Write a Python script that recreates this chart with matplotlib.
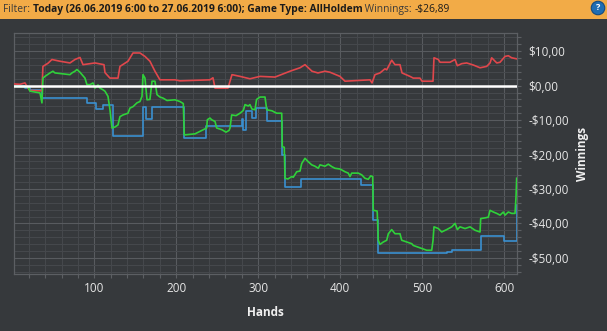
import matplotlib
matplotlib.use('Agg')
import matplotlib.pyplot as plt
from matplotlib.ticker import MultipleLocator, FuncFormatter
from matplotlib.patches import Rectangle

# values (hands, winnings in $)
red_hands = [2, 9.3, 15.4, 19, 21.5, 36.1, 37.3, 43.4, 48.3, 58, 70.3, 76.4, 82.5, 86.2,
             100.8, 111.8, 113, 119.1, 128.9, 131.3, 141.1, 147.2, 155.7, 161.8, 167.9,
             174, 180.1, 198.4, 204.5, 228.9, 241.1, 244.8, 247.3, 263.1, 268, 277.8,
             289.9, 302.2, 320.5, 338.8, 351, 357.1, 365.6, 372.9, 381.5, 387.6, 399.8,
             405.9, 436.4, 438.9, 442.5, 448.6, 454.7, 456.8, 462.9, 466.9, 473, 475.5,
             485.2, 489.2, 497.4, 499.9, 513.3, 514.5, 519.8, 521.9, 534, 540.2, 543,
             548.4, 554.4, 562.5, 570.7, 578.8, 582.9, 584.9, 591.1, 595.1, 601.2,
             605.2, 609.3, 615.4]
red_values = [0.5, 0.4, 0.8, -0.7, -1.4, -1.5, 5.6, 6.5, 7.6, 7.1, 6.6, 7.6, 8.2, 6.1,
              6.6, 6.1, 3.8, 2.2, 2.2, 5.6, 7.1, 9.5, 9.5, 8.5, 7.1,
              4.2, 1.7, 1.7, 1.4, 1.6, 1.7, 2.3, -0.7, -0.7, 3.2, 2.7,
              2.0, 2.7, 2.5, 4.2, 5.2, 6.1, 4.2, 3.7, 4.2, 3.9, 2.7,
              1.3, 1.7, 0.8, 3.2, 3.7, 4.9, 4.6, 7.4, 6.1, 6.1, 3.7,
              2.7, 2.2, 2.2, 1.3, 1.3, 8.1, 7.6, 6.8, 6.8, 7.6, 5.8,
              6.4, 6.6, 6.0, 5.2, 5.6, 6.6, 8.1, 6.6, 6.8, 8.5,
              8.7, 8.1, 7.8]

green_hands = [2, 19, 21.5, 33.7, 36.1, 37.3, 39.8, 45.9, 49.5, 52, 70.3, 72.7, 76.4,
               78.8, 82.5, 88.6, 91, 94.7, 98.4, 100.8, 104.5, 106.9, 110.6, 113, 116.7,
               119.1, 121.6, 125.2, 128.9, 131.3, 135, 141.1, 143.5, 147.2, 152, 155.7,
               158.2, 159.4, 161.8, 164.3, 167.9, 170.4, 174, 176.5, 180.1, 183.8, 188.7,
               198.4, 204.5, 208.6, 209.8, 222.8, 233, 237.1, 237.9, 241.1, 243.2, 247.3,
               249.3, 255.8, 260.7, 264.4, 265.6, 267.6, 272.9, 277.8, 281.8, 283.9,
               287.9, 289.9, 292.4, 296.1, 298, 302.2, 308.3, 310.4, 316.8, 322.5, 328.7,
               329.4, 331.8, 332.7, 336.3, 340.9, 342.8, 347, 351, 353.1, 357.1, 361.1,
               365.3, 369.3, 373.3, 375.4, 381.5, 385.5, 389.7, 393.7, 399.8, 405.9,
               409.9, 412, 414.1, 422.1, 426.3, 430.3, 434.3, 437.3, 439.7, 440.4, 445,
               445.3, 446.5, 448.6, 452.7, 456.8, 458.8, 462.9, 466.9, 473, 475.1, 481.2,
               487.4, 489.2, 499.5, 505.6, 511.7, 513.3, 514.5, 519.8, 523.9, 530, 536.2,
               540.2, 543, 546.3, 552.4, 558.5, 564.6, 570.7, 571.5, 576.8, 580.8, 582.9,
               587, 591.1, 595.1, 599.1, 601.2, 605.2, 609.3, 613.4, 614.6, 615.4]
green_values = [-0.2, -0.3, -1.6, -2.1, -5.0, 2.2, 2.7, 3.7, 4.2, 3.7, 3.2, 3.7, 4.2,
                4.7, 3.9, 2.2, 0.3, 0.3, 0.8, -0.7, 0.2, -0.7, -1.2, -1.6, -3.1,
                -7.0, -12.3, -12.0, -11.4, -9.0, -8.5, -8.0, -6.5, -6.1, -5.0, -4.6,
                -3.1, 3.2, 2.2, -4.1, -4.0, 1.3, 1.3, -2.6, -3.3, -3.6, -4.3,
                -4.1, -4.6, -5.2, -14.3, -14.0, -12.8, -12.3, -9.9, -9.4, -9.9, -10.4,
                -12.3, -12.8, -13.5, -13.0, -12.3, -8.5, -8.7, -8.0, -7.2, -5.5,
                -5.9, -5.5, -6.8, -7.0, -4.0, -3.3, -3.3, -7.0, -7.3, -8.0, -8.0,
                -17.7, -17.9, -26.9, -27.1, -26.4, -26.6, -25.0, -24.8, -22.6, -21.1, -22.1,
                -23.0, -23.4, -24.0, -23.0, -23.4, -22.8, -23.5, -24.0, -24.2, -25.0,
                -25.4, -26.4, -25.4, -25.4, -25.9, -26.9, -27.2, -26.2, -26.4, -36.2, -36.4,
                -37.0, -44.9, -46.1, -45.4, -44.9, -43.0, -41.8, -43.0, -43.0, -44.9, -45.4,
                -45.9, -46.4, -47.3, -47.8, -47.8, -45.0, -41.0, -41.5, -42.5, -41.8, -41.0,
                -40.0, -41.8, -41.0, -41.5, -41.0, -42.0, -42.5, -38.6, -38.4, -38.2, -36.2,
                -36.7, -37.1, -37.6, -36.7, -37.6, -36.7, -37.1, -37.1, -32.3, -26.89]

blue_hands = [2, 15, 21, 36, 91, 102, 111, 123, 159, 163, 170, 209.5, 236.3, 280, 282,
              284.5, 292, 297.3, 311, 329.4, 332.7, 351.8, 425.4, 439.7, 446.5, 530,
              536.2, 572, 599.5, 615.4]
blue_values = [-0.2, -0.7, -1.2, -3.6, -5.0, -6.8, -5.5, -14.7, -6.3, -9.7, -6.3, -15.3,
               -11.8, -9.8, -12.8, -7.5, -9.4, -6.5, -10.4, -20.1, -29.4, -27.2, -28.9,
               -39.1, -48.7, -48.2, -47.6, -43.8, -45.2, -34.7]

filter_label = 'Filter: '
filter_value = 'Today (26.06.2019 6:00 to 27.06.2019 6:00); Game Type: AllHoldem'
winnings_label = ' Winnings: '
winnings_value = '-\\$26,89'

BG = '#36393c'
W, H = 607, 331

plt.rcParams['font.family'] = ['Open Sans', 'DejaVu Sans']

fig = plt.figure(figsize=(W / 100, H / 100), dpi=100)
fig.patch.set_facecolor(BG)

# orange filter bar
fig.add_artist(Rectangle((0, 1 - 19 / H), 1, 19 / H, transform=fig.transFigure,
                         facecolor='#f2ab47', edgecolor='none'))

renderer = fig.canvas.get_renderer()
x_px = 3
for txt, weight, col in [(filter_label, 'normal', '#3a3a3a'),
                         (filter_value, 'bold', '#1b1b1b'),
                         (winnings_label, 'normal', '#3a3a3a'),
                         (winnings_value, 'normal', '#1b1b1b')]:
    t = fig.text(x_px / W, 1 - 9.5 / H, txt, fontsize=7.4, fontweight=weight,
                 color=col, va='center', ha='left')
    x_px += t.get_window_extent(renderer).width

fig.text(598 / W, 1 - 8 / H, '?', fontsize=6.5, fontweight='bold', color='white',
         ha='center', va='center',
         bbox=dict(boxstyle='circle,pad=0.25', fc='#1f6db3', ec='#134a80', lw=0.8))

ax = fig.add_axes([14 / W, 1 - 274 / H, 503 / W, 241 / H])
ax.set_facecolor(BG)

ax.plot(blue_hands, blue_values, color='#3a90d0', lw=1.2, drawstyle='steps-post', zorder=3)
ax.plot(red_hands, red_values, color='#e0474c', lw=1.2, zorder=3)
ax.plot(green_hands, green_values, color='#2fd13a', lw=1.2, zorder=4)
ax.axhline(0, color='white', lw=1.8, zorder=5)

ax.set_xlim(2, 615.8)
ax.set_ylim(-54.7, 15.3)

ax.xaxis.set_major_locator(MultipleLocator(100))
ax.xaxis.set_minor_locator(MultipleLocator(20))
ax.yaxis.set_major_locator(MultipleLocator(10))
ax.yaxis.set_minor_locator(MultipleLocator(2))


def money(v, pos):
    s = f'{abs(v):.2f}'.replace('.', ',')
    return ('-' if v < -1e-9 else '') + '\\$' + s


ax.yaxis.set_major_formatter(FuncFormatter(money))
ax.yaxis.tick_right()
ax.yaxis.set_label_position('right')

ax.grid(which='major', color='#585b5f', lw=0.8)
ax.grid(which='minor', color='#46494d', lw=0.7)
ax.set_axisbelow(True)
for s in ax.spines.values():
    s.set_color('#5c5f63')
    s.set_linewidth(0.9)

ax.tick_params(which='both', direction='out', color='#5c5f63', length=3, width=0.8)
ax.tick_params(axis='x', labelcolor='#e6e6e6', labelsize=8.5, pad=3)
ax.tick_params(axis='y', labelcolor='#e6e6e6', labelsize=8.5, pad=5)

ax.set_xlabel('Hands', color='#f0f0f0', fontsize=8.5, fontweight='bold', labelpad=8)
ax.set_ylabel('Winnings', color='#f0f0f0', fontsize=8.5, fontweight='bold', labelpad=5)

fig.savefig('out.png', dpi=100, facecolor=BG)
